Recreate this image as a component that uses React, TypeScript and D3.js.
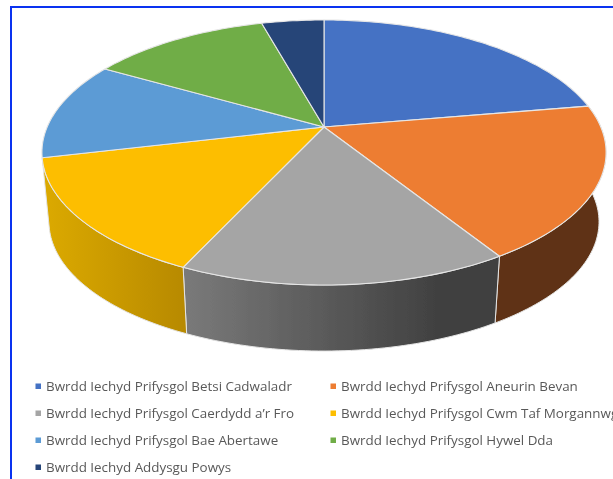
import React from "react";
import * as d3 from "d3";

const categories = [
  "Bwrdd Iechyd Prifysgol Betsi Cadwaladr",
  "Bwrdd Iechyd Prifysgol Aneurin Bevan",
  "Bwrdd Iechyd Prifysgol Caerdydd a\u2019r Fro",
  "Bwrdd Iechyd Prifysgol Cwm Taf Morgannwg",
  "Bwrdd Iechyd Prifysgol Bae Abertawe",
  "Bwrdd Iechyd Prifysgol Hywel Dda",
  "Bwrdd Iechyd Addysgu Powys",
];
const values = [22.3, 18.8, 15.8, 14.4, 12.0, 12.4, 4.3];
const colors = ["#4472c4", "#ed7d31", "#a5a5a5", "#fdbe00", "#5b9bd5", "#70ad47", "#264478"];
const sideStops: (string[] | null)[] = [
  null,
  ["#5f3314", "#5f3314"],
  ["#7a7a7a", "#414141"],
  ["#dcaa00", "#b88a00"],
  null, null, null,
];

const W = 613, H = 479;
const cx = 324, cy = 127, k = 0.1924;
const sx = d3.scaleLinear().domain([-1, 1]).range([cx - 276.8, cx + 276.8]);
const sy = d3.scaleLinear().domain([-1, 1]).range([cy + 127.6, cy - 127.6]);
const shrink = 0.975, drop = 70;

type P = [number, number];
const rim = (t: number): P => {
  const u = Math.sin(t), v = Math.cos(t), w = 1 + k * v;
  return [sx(u / w), sy(v / w)];
};
const lower = (p: P): P => [cx + shrink * (p[0] - cx), cy + drop + shrink * (p[1] - cy)];
const arcPts = (a: number, b: number): P[] => {
  const n = Math.max(2, Math.ceil((b - a) / 0.02));
  return d3.range(n + 1).map((i) => rim(a + ((b - a) * i) / n));
};
const line = d3.line<P>().x((d) => d[0]).y((d) => d[1]);

const arcs = d3.pie<number>().sort(null).value((d) => d)(values);

export default function App() {
  const legendX = d3.scalePoint<number>().domain([0, 1]).range([38, 333]);
  const legendY = d3.scaleLinear().domain([0, 3]).range([386, 467]);
  return (
    <svg
      width={W}
      height={H}
      viewBox={`0 0 ${W} ${H}`}
      style={{ position: "absolute", left: 0, top: 0, background: "#fff" }}
    >
      <defs>
        <filter id="soft" x="-2%" y="-2%" width="104%" height="104%">
          <feGaussianBlur stdDeviation="0.45" />
        </filter>
        {arcs.map((a, i) => {
          const st = sideStops[i];
          if (!st) return null;
          const xs = arcPts(a.startAngle, a.endAngle).map((p) => p[0]);
          return (
            <linearGradient
              key={i}
              id={`side${i}`}
              gradientUnits="userSpaceOnUse"
              x1={d3.min(xs)}
              x2={d3.max(xs)}
              y1={0}
              y2={0}
            >
              <stop offset="0" stopColor={st[0]} />
              <stop offset={i === 2 ? "0.8" : "1"} stopColor={st[1]} />
            </linearGradient>
          );
        })}
      </defs>
      <path d={`M11,479V7H613`} fill="none" stroke="#0a32f0" strokeWidth={2} />
      <g filter="url(#soft)">
        {arcs.map((a, i) => {
          if (!sideStops[i]) return null;
          const top = arcPts(a.startAngle, a.endAngle);
          const bot = top.map(lower).reverse();
          return (
            <path
              key={i}
              d={line([...top, ...bot])! + "Z"}
              fill={`url(#side${i})`}
              stroke="#e4e4e4"
              strokeWidth={1}
            />
          );
        })}
        {arcs.map((a, i) => (
          <path
            key={i}
            d={line([[cx, cy], ...arcPts(a.startAngle, a.endAngle)])! + "Z"}
            fill={colors[i]}
            stroke="#e6e6e6"
            strokeWidth={1.1}
            strokeLinejoin="round"
          />
        ))}
        {categories.map((c, i) => {
          const col = i === 6 ? 0 : i % 2;
          const row = Math.floor(i / 2);
          const x = legendX(col)!;
          const y = legendY(row);
          return (
            <g key={c}>
              <rect x={x - 2.5} y={y - 2.5} width={5.5} height={5.5} fill={colors[i]} />
              <text
                x={x + 8}
                y={y + 4.5}
                fontFamily="'Open Sans', sans-serif"
                fontSize={13.4}
                fill="#595959"
              >
                {c}
              </text>
            </g>
          );
        })}
      </g>
    </svg>
  );
}
